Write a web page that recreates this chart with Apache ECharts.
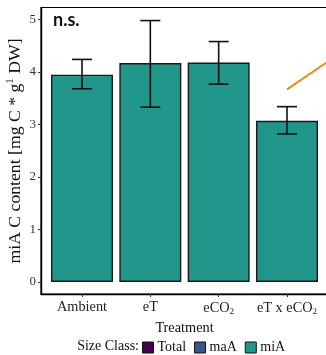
<!DOCTYPE html>
<html>
<head>
<meta charset="utf-8">
<script src="https://cdn.jsdelivr.net/npm/echarts@6/dist/echarts.min.js"></script>
<style>html,body{margin:0;padding:0;background:#fff}#c{width:326px;height:355px}</style>
</head>
<body>
<div id="c"></div>
<script>
var categories = ['Ambient', 'eT', 'eCO2', 'eT x eCO2'];
var catLabels = ['Ambient', 'eT', 'eCO{sub|2}', 'eT x eCO{sub|2}'];
var catPos = [1, 2, 3, 4];
var means = [3.95, 4.17, 4.18, 3.07];
var errLow = [3.68, 3.33, 3.77, 2.82];
var errHigh = [4.24, 4.98, 4.58, 3.34];
var yTicks = [0, 1, 2, 3, 4, 5];
var orangeX = [4, 4.6];
var orangeY = [3.67, 4.2];
var legendNames = ['Total', 'maA', 'miA'];
var legendColors = ['#440154', '#3B528B', '#21968A'];
var yTitle = '{n|miA C content [mg C * g}{s|1}{n| DW]}';

var serif = '"Liberation Serif", "DejaVu Serif", serif';

var chart = echarts.init(document.getElementById('c'), null, {renderer: 'canvas'});

var barData = catPos.map(function (p, i) { return [p, means[i]]; });
var errData = catPos.map(function (p, i) { return [p, errLow[i], errHigh[i]]; });
var orangeData = orangeX.map(function (x, i) { return [x, orangeY[i]]; });

var series = [
  {name: legendNames[0], type: 'bar', stack: 'all', data: [], itemStyle: {color: legendColors[0], borderColor: '#111', borderWidth: 1}},
  {name: legendNames[1], type: 'bar', stack: 'all', data: [], itemStyle: {color: legendColors[1], borderColor: '#111', borderWidth: 1}},
  {name: legendNames[2], type: 'bar', stack: 'all', data: barData, barWidth: 62,
   itemStyle: {color: legendColors[2], borderColor: '#1a1a1a', borderWidth: 1.4}},
  {type: 'custom', data: errData, z: 5,
   renderItem: function (params, api) {
     var x = api.value(0);
     var lo = api.coord([x, api.value(1)]);
     var hi = api.coord([x, api.value(2)]);
     var hw = 10;
     var st = {stroke: '#111', lineWidth: 1.6};
     return {type: 'group', children: [
       {type: 'line', shape: {x1: lo[0], y1: lo[1], x2: hi[0], y2: hi[1]}, style: st},
       {type: 'line', shape: {x1: lo[0] - hw, y1: lo[1], x2: lo[0] + hw, y2: lo[1]}, style: st},
       {type: 'line', shape: {x1: hi[0] - hw, y1: hi[1], x2: hi[0] + hw, y2: hi[1]}, style: st}
     ]};
   }},
  {type: 'line', data: orangeData, symbol: 'none', z: 6,
   lineStyle: {color: '#EE8A1C', width: 2}}
];

chart.setOption({
  animation: false,
  backgroundColor: '#fff',
  grid: {left: 41, top: 7.5, width: 287, height: 286.5, show: true, borderColor: '#000', borderWidth: 1.2,
         containLabel: false, outerBoundsMode: 'none'},
  xAxis: {
    type: 'value', min: 0.4, max: 4.6,
    name: 'Treatment', nameLocation: 'middle', nameGap: 20,
    nameTextStyle: {fontFamily: serif, fontSize: 14.3, color: '#111'},
    splitLine: {show: false},
    axisLine: {show: true, onZero: false, lineStyle: {color: '#000', width: 1.4}},
    axisTick: {show: true, length: 3, lineStyle: {color: '#333'}, customValues: catPos},
    axisLabel: {
      customValues: catPos, margin: 6,
      fontFamily: serif, fontSize: 14.3, color: '#222',
      formatter: function (v) { return catLabels[Math.round(v) - 1]; },
      rich: {sub: {fontFamily: serif, fontSize: 9, color: '#222', verticalAlign: 'bottom', padding: [7, 0, 0, 0]}}
    }
  },
  yAxis: {
    type: 'value', min: -0.229, max: 5.229,
    splitLine: {show: false},
    axisLine: {show: true, onZero: false, lineStyle: {color: '#000', width: 1.4}},
    axisTick: {show: true, length: 3, lineStyle: {color: '#333'}, customValues: yTicks},
    axisLabel: {customValues: yTicks, margin: 5, fontFamily: serif, fontSize: 13, color: '#333'}
  },
  legend: {
    data: legendNames,
    left: 142, top: 340.5, padding: 0,
    icon: 'rect', itemWidth: 11, itemHeight: 11, itemGap: 8,
    textStyle: {fontFamily: serif, fontSize: 14, color: '#111', padding: [0, 0, 0, -1]},
    itemStyle: {borderColor: '#111', borderWidth: 1},
    selectedMode: false
  },
  graphic: [
    {type: 'text', left: 53, top: 11, style: {text: 'n.s.', font: 'bold 18px Lato, "Open Sans", sans-serif', fill: '#111'}},
    {type: 'text', x: 139, y: 346, style: {text: 'Size Class:', font: '14px ' + serif, fill: '#111', textAlign: 'right', textVerticalAlign: 'middle'}},
    {type: 'text', x: 15, y: 151, rotation: Math.PI / 2,
     style: {text: yTitle, textAlign: 'center', textVerticalAlign: 'middle', fill: '#111',
       font: '17.7px ' + serif,
       rich: {
         n: {fontFamily: serif, fontSize: 17.7, fill: '#111'},
         s: {fontFamily: serif, fontSize: 11, fill: '#111', verticalAlign: 'top', padding: [0, 0, 9, 0]}
       }}}
  ],
  series: series
});
</script>
</body>
</html>
